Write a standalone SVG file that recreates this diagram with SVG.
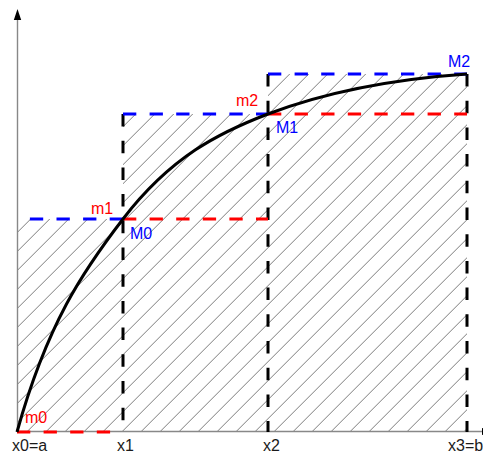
<svg xmlns="http://www.w3.org/2000/svg" width="483" height="455" viewBox="0 0 483 455">
<style>
.lbl{font-family:"Liberation Sans",Arial,sans-serif;font-size:16px}
.ax{fill:#1a1a1a}
.red{fill:#ff0000}
.blue{fill:#0000ff}
.d{fill:none;stroke-width:3;stroke-dasharray:13.3 13.3}
.dr{stroke:#ff0000}
.db{stroke:#0000ff}
.dk{stroke:#000;stroke-dasharray:12.5 14.2}
</style>
<defs>
<pattern id="hatch" patternUnits="userSpaceOnUse" x="2.7" y="0" width="19" height="19">
<path d="M0,19 L19,0 M-2,2 L2,-2 M17,21 L21,17" stroke="#444" stroke-width="0.7"/>
</pattern>
</defs>
<rect width="483" height="455" fill="#fff"/>
<g id="hatching">
<path d="M17,432 L17,219 L123,219 L123,114 L268,114 L268,74 L467,74 L467,432 Z" fill="url(#hatch)"/>
</g>
<g id="axes">
<line x1="17.5" y1="432" x2="17.5" y2="18" stroke="#888" stroke-width="1.4"/>
<polygon points="17.5,9 13.8,20 21.2,20" fill="#000"/>
<line x1="17" y1="431.5" x2="483" y2="431.5" stroke="#888" stroke-width="1.4"/>
<polygon points="482,428 493,431.5 482,435" fill="#000"/>
</g>
<g id="verticals">
<line class="d dk" x1="123" y1="114" x2="123" y2="432"/>
<line class="d dk" x1="268" y1="74" x2="268" y2="432"/>
<line class="d dk" x1="467" y1="74" x2="467" y2="432"/>
</g>
<g id="lower-bounds">
<line class="d dr" x1="17" y1="432" x2="123" y2="432"/>
<line class="d dr" x1="123" y1="219" x2="268" y2="219"/>
<line class="d dr" x1="268" y1="114" x2="467" y2="114"/>
</g>
<g id="upper-bounds">
<line class="d db" x1="123" y1="219" x2="17" y2="219"/>
<line class="d db" x1="123" y1="114" x2="268" y2="114"/>
<line class="d db" x1="268" y1="74" x2="467" y2="74"/>
</g>
<g id="curve">
<path d="M17,432 C47,324 83,271 123,219 C171.3,156.2 219.7,132.4 268,114 C334.3,88.8 400.7,78.6 467,74" fill="none" stroke="#000" stroke-width="3"/>
</g>
<g id="labels" class="lbl">
<text class="ax" x="12" y="451">x0=a</text>
<text class="ax" x="117" y="451">x1</text>
<text class="ax" x="263" y="451">x2</text>
<text class="ax" x="448" y="451">x3=b</text>
<text class="red" x="25" y="423">m0</text>
<text class="red" x="91" y="214">m1</text>
<text class="red" x="236" y="106">m2</text>
<text class="blue" x="130" y="239">M0</text>
<text class="blue" x="276" y="133">M1</text>
<text class="blue" x="448" y="67">M2</text>
</g>
</svg>
